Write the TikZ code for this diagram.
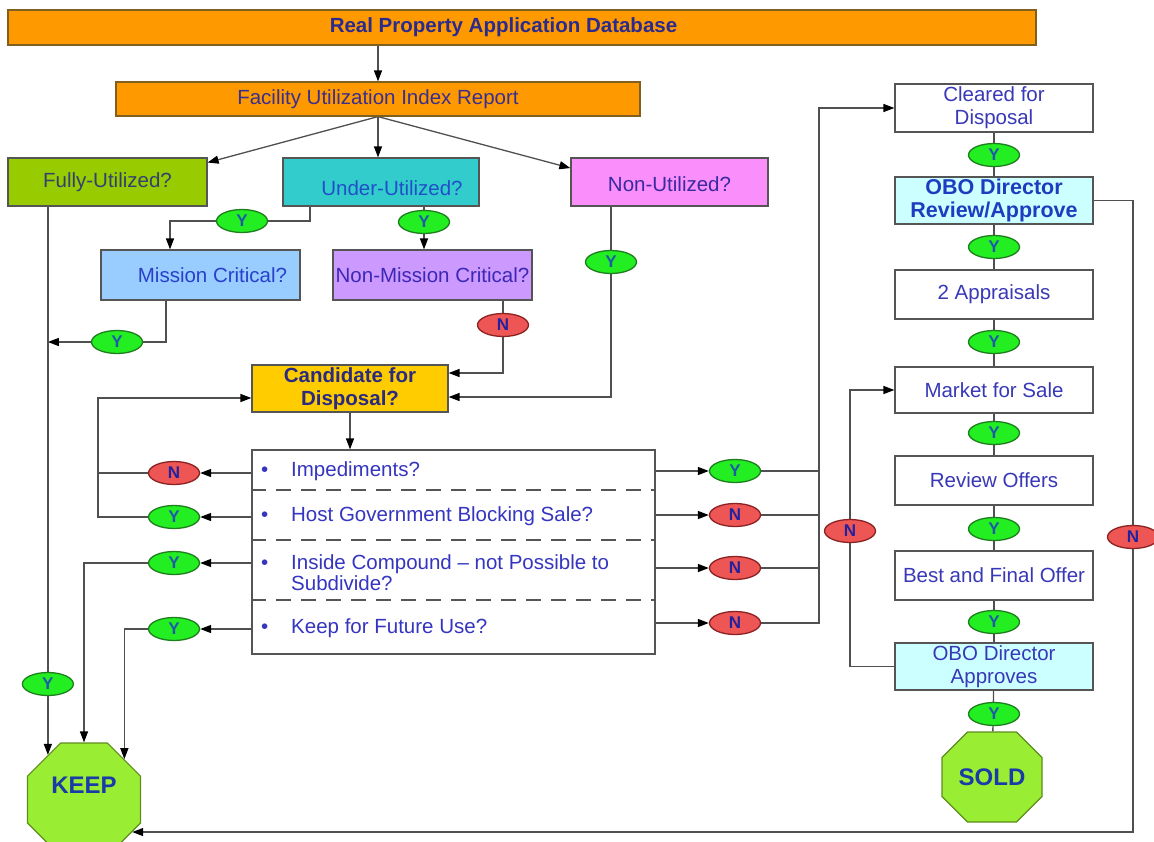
\documentclass[tikz,border=0pt]{standalone}
\usepackage{fontspec}
\setmainfont{Liberation Sans}
\usetikzlibrary{shapes.geometric,shapes.misc,arrows.meta,backgrounds}
\pgfdeclarelayer{paper}
\pgfsetlayers{paper,background,main}

% fills
\definecolor{orangeF}{HTML}{FF9900}
\definecolor{orangeL}{HTML}{7F6020}
\definecolor{fullyF}{HTML}{99CC00}
\definecolor{underF}{HTML}{33CCCC}
\definecolor{nonuF}{HTML}{FA8EFA}
\definecolor{mcF}{HTML}{99CCFF}
\definecolor{nmcF}{HTML}{CC99FF}
\definecolor{candF}{HTML}{FFCC00}
\definecolor{oboF}{HTML}{CCFFFF}
\definecolor{octFill}{HTML}{99EE33}
\definecolor{octLine}{HTML}{5E8C1E}
\definecolor{yFill}{HTML}{22EE22}
\definecolor{yLine}{HTML}{1F7F1F}
\definecolor{nFill}{HTML}{EE5555}
\definecolor{nLine}{HTML}{8B2323}
\definecolor{boxline}{HTML}{555555}
\definecolor{lineGray}{HTML}{505050}
% text colours
\definecolor{titleT}{HTML}{2B2B8E}
\definecolor{fuiT}{HTML}{3A2E8E}
\definecolor{fullyT}{HTML}{2F4270}
\definecolor{underT}{HTML}{2050C8}
\definecolor{nonuT}{HTML}{3A2AA0}
\definecolor{mcT}{HTML}{2840CC}
\definecolor{nmcT}{HTML}{3C28B4}
\definecolor{candT}{HTML}{2A2A80}
\definecolor{itemT}{HTML}{3535C0}
\definecolor{colT}{HTML}{3838B8}
\definecolor{oboT}{HTML}{1E3CC0}
\definecolor{octT}{HTML}{1A3AA8}
\definecolor{yText}{HTML}{1F5AA8}
\definecolor{nText}{HTML}{2222A0}

\begin{document}
\begin{tikzpicture}[x=1pt,y=-1pt,
  flowbox/.style={draw=boxline, line width=1.2pt, inner sep=1pt, align=center,
    text=colT, font=\fontsize{20.5}{23}\selectfont},
  boldtext/.style={font=\fontsize{20.5}{23}\selectfont\bfseries},
  ynode/.style={ellipse, draw=yLine, fill=yFill, line width=1.3pt,
    minimum width=51pt, minimum height=23pt, inner sep=0pt, text=yText,
    font=\fontsize{17}{17}\selectfont\bfseries},
  nnode/.style={ynode, draw=nLine, fill=nFill, text=nText},
  conn/.style={draw=lineGray, line width=1.3pt},
  arr/.style={conn, -{Triangle[length=11pt,width=8pt,color=black]}},
  listitem/.style={anchor=west, inner sep=0pt, align=left, text=itemT,
    font=\fontsize{20.5}{21.5}\selectfont},
  octa/.style={regular polygon, regular polygon sides=8, fill=octFill,
    draw=octLine, line width=1.2pt, inner sep=0pt},
  octtext/.style={text=octT, font=\fontsize{24}{24}\selectfont\bfseries},
]
\useasboundingbox (0,0) rectangle (1154,841);
\begin{pgfonlayer}{paper}
  \fill[white] (0,0) rectangle (1154,841);
\end{pgfonlayer}

% ---- top of the tree
\node[flowbox, fill=orangeF, draw=orangeL, minimum width=1028pt, minimum height=35pt,
  text=titleT, boldtext] (db) at (522,27.5) {\hspace*{-37pt}Real Property Application Database};
\node[flowbox, fill=orangeF, draw=orangeL, minimum width=524pt, minimum height=34pt,
  text=fuiT] (fui) at (378,99) {Facility Utilization Index Report};

\node[flowbox, fill=fullyF, minimum width=199pt, minimum height=48pt, text=fullyT]
  (fully) at (107.5,182) {Fully-Utilized?};
\node[flowbox, fill=underF, minimum width=196pt, minimum height=48pt, text=underT]
  (under) at (381,182) {\hspace*{22pt}\rule{0pt}{27pt}Under-Utilized?};
\node[flowbox, fill=nonuF, minimum width=197pt, minimum height=48pt, text=nonuT]
  (nonu) at (669.5,182) {\rule{0pt}{20pt}Non-Utilized?};
\node[flowbox, fill=mcF, minimum width=199pt, minimum height=50pt, text=mcT]
  (mc) at (200.5,275) {\hspace*{24pt}Mission Critical?};
\node[flowbox, fill=nmcF, minimum width=199pt, minimum height=50pt, text=nmcT]
  (nmc) at (432.5,275) {Non-Mission Critical?};
\node[flowbox, fill=candF, minimum width=196pt, minimum height=47pt, text=candT, boldtext]
  (cand) at (350,388.5) {Candidate for\\Disposal?};

% ---- question list
\node[draw=boxline, line width=1.2pt, minimum width=403pt, minimum height=204pt,
  inner sep=0pt] (lst) at (453.5,552) {};
\foreach \yy in {490,540,600}
  \draw[boxline, line width=1.2pt, dash pattern=on 15pt off 10pt]
    (lst.west |- 0,\yy) -- (lst.east |- 0,\yy);
\node[listitem] (it1) at (261,471) {\makebox[30pt][l]{\textbullet}Impediments?};
\node[listitem] (it2) at (261,516) {\makebox[30pt][l]{\textbullet}Host Government Blocking Sale?};
\node[listitem] (it3) at (261,572.5) {\makebox[30pt][l]{\textbullet}Inside Compound – not Possible to\\\hspace*{30pt}Subdivide?};
\node[listitem] (it4) at (261,628) {\makebox[30pt][l]{\textbullet}Keep for Future Use?};

% ---- disposal column
\node[flowbox, fill=white, minimum width=198pt, minimum height=48pt] (clr) at (994,108) {Cleared for\\Disposal};
\node[flowbox, fill=oboF, minimum width=198pt, minimum height=47pt, text=oboT,
  font=\fontsize{21.5}{23}\selectfont\bfseries] (obo1) at (994,200.5) {OBO Director\\Review/Approve};
\node[flowbox, fill=white, minimum width=198pt, minimum height=49pt] (appr) at (994,294.5) {2 Appraisals};
\node[flowbox, fill=white, minimum width=198pt, minimum height=46pt] (mkt) at (994,390) {Market for Sale};
\node[flowbox, fill=white, minimum width=198pt, minimum height=49pt] (rev) at (994,480.5) {Review Offers};
\node[flowbox, fill=white, minimum width=198pt, minimum height=49pt] (bafo) at (994,575.5) {Best and Final Offer};
\node[flowbox, fill=oboF, minimum width=198pt, minimum height=47pt] (obo2) at (994,666.5) {OBO Director\\Approves};

% ---- end states
\node[octa, minimum size=122.3pt] (keep) at (84,799.5) {};
\node[octtext] (keeplbl) at (84,785) {KEEP};
\node[chamfered rectangle, chamfered rectangle sep=17pt, fill=octFill, draw=octLine,
  line width=1.2pt, minimum width=100pt, minimum height=90pt, inner sep=0pt, octtext]
  (sold) at (992,777) {SOLD};

% ---- answer ovals
\node[ynode] (yU1) at (242,221) {Y};
\node[ynode] (yU2) at (424,222) {Y};
\node[ynode] (yNU) at (611,262) {Y};
\node[ynode] (yMC) at (117,342) {Y};
\node[nnode] (nNMC) at (503,325) {N};
\node[ynode] (yFU) at (keep.129.4 |- 0,684) {Y};
\node[nnode] (nL1) at (174,473) {N};
\node[ynode] (yL2) at (174,517) {Y};
\node[ynode] (yL3) at (174,563) {Y};
\node[ynode] (yL4) at (174,629) {Y};
\node[ynode] (yR1) at (735,471) {Y};
\node[nnode] (nR2) at (735,515) {N};
\node[nnode] (nR3) at (735,568) {N};
\node[nnode] (nR4) at (735,623) {N};
\foreach \nm/\yy in {c1/155,c2/247,c3/342,c4/433,c5/529,c6/622,c7/714}
  \node[ynode] (\nm) at (994,\yy) {Y};
\node[nnode] (nLoop) at (850,531) {N};
\node[nnode] (nRight) at (1133,537) {N};

\coordinate (lb) at (98,398);
\coordinate (rb) at (819,623);

% ---- connectors
\begin{scope}[on background layer]
  \draw[arr] (fui.north |- db.south) -- (fui.north);
  \draw[arr] (fui.south) -- (fully.11);
  \draw[arr] (fui.south) -- (fui.south |- under.north);
  \draw[arr] (fui.south) -- (nonu.172);
  \draw[arr] ([xshift=-71pt]under.south) |- (yU1) -| ([xshift=-30.5pt]mc.north);
  \draw[arr] (yU2 |- under.south) -- (yU2 |- nmc.north);
  \draw[arr] (yNU |- nonu.south) |- ([yshift=-8.5pt]cand.east);
  \draw[arr] (nNMC |- nmc.south) |- ([yshift=15.5pt]cand.east);
  \draw[arr] ([xshift=-34.5pt]mc.south) |- (yMC) -- (yMC -| keep.129.4);
  \draw[arr] (fully.south -| keep.129.4) -- (keep.129.4);
  \draw[arr] (cand.south) -- (cand.south |- lst.north);
  % answers to the left
  \foreach \o in {nL1,yL2,yL3,yL4}
    \draw[arr] (lst.west |- \o) -- (\o.east);
  \draw[conn] (nL1.west) -- (nL1 -| lb);
  \draw[arr] (yL2.west) -| (lb) -- (lb -| cand.west);
  \draw[arr] (yL3.west) -| (keep.north);
  \draw[arr] (yL4.west) -| (keep.45.6);
  % answers to the right
  \foreach \o in {yR1,nR2,nR3,nR4}
    \draw[arr] (lst.east |- \o) -- (\o.west);
  \foreach \o in {yR1,nR2,nR3}
    \draw[conn] (\o.east) -- (\o -| rb);
  \draw[arr] (nR4.east) -- (rb) |- (clr.west);
  % disposal column
  \foreach \a/\b in {clr/obo1,obo1/appr,appr/mkt,mkt/rev,rev/bafo,bafo/obo2,obo2/sold}
    \draw[conn] (\a) -- (\b);
  \draw[arr] (obo2.west) -| (nLoop) |- (mkt.west);
  \draw[arr] (obo1.east) -| (nRight) |- (keep.-34.4);
\end{scope}
\end{tikzpicture}
\end{document}
